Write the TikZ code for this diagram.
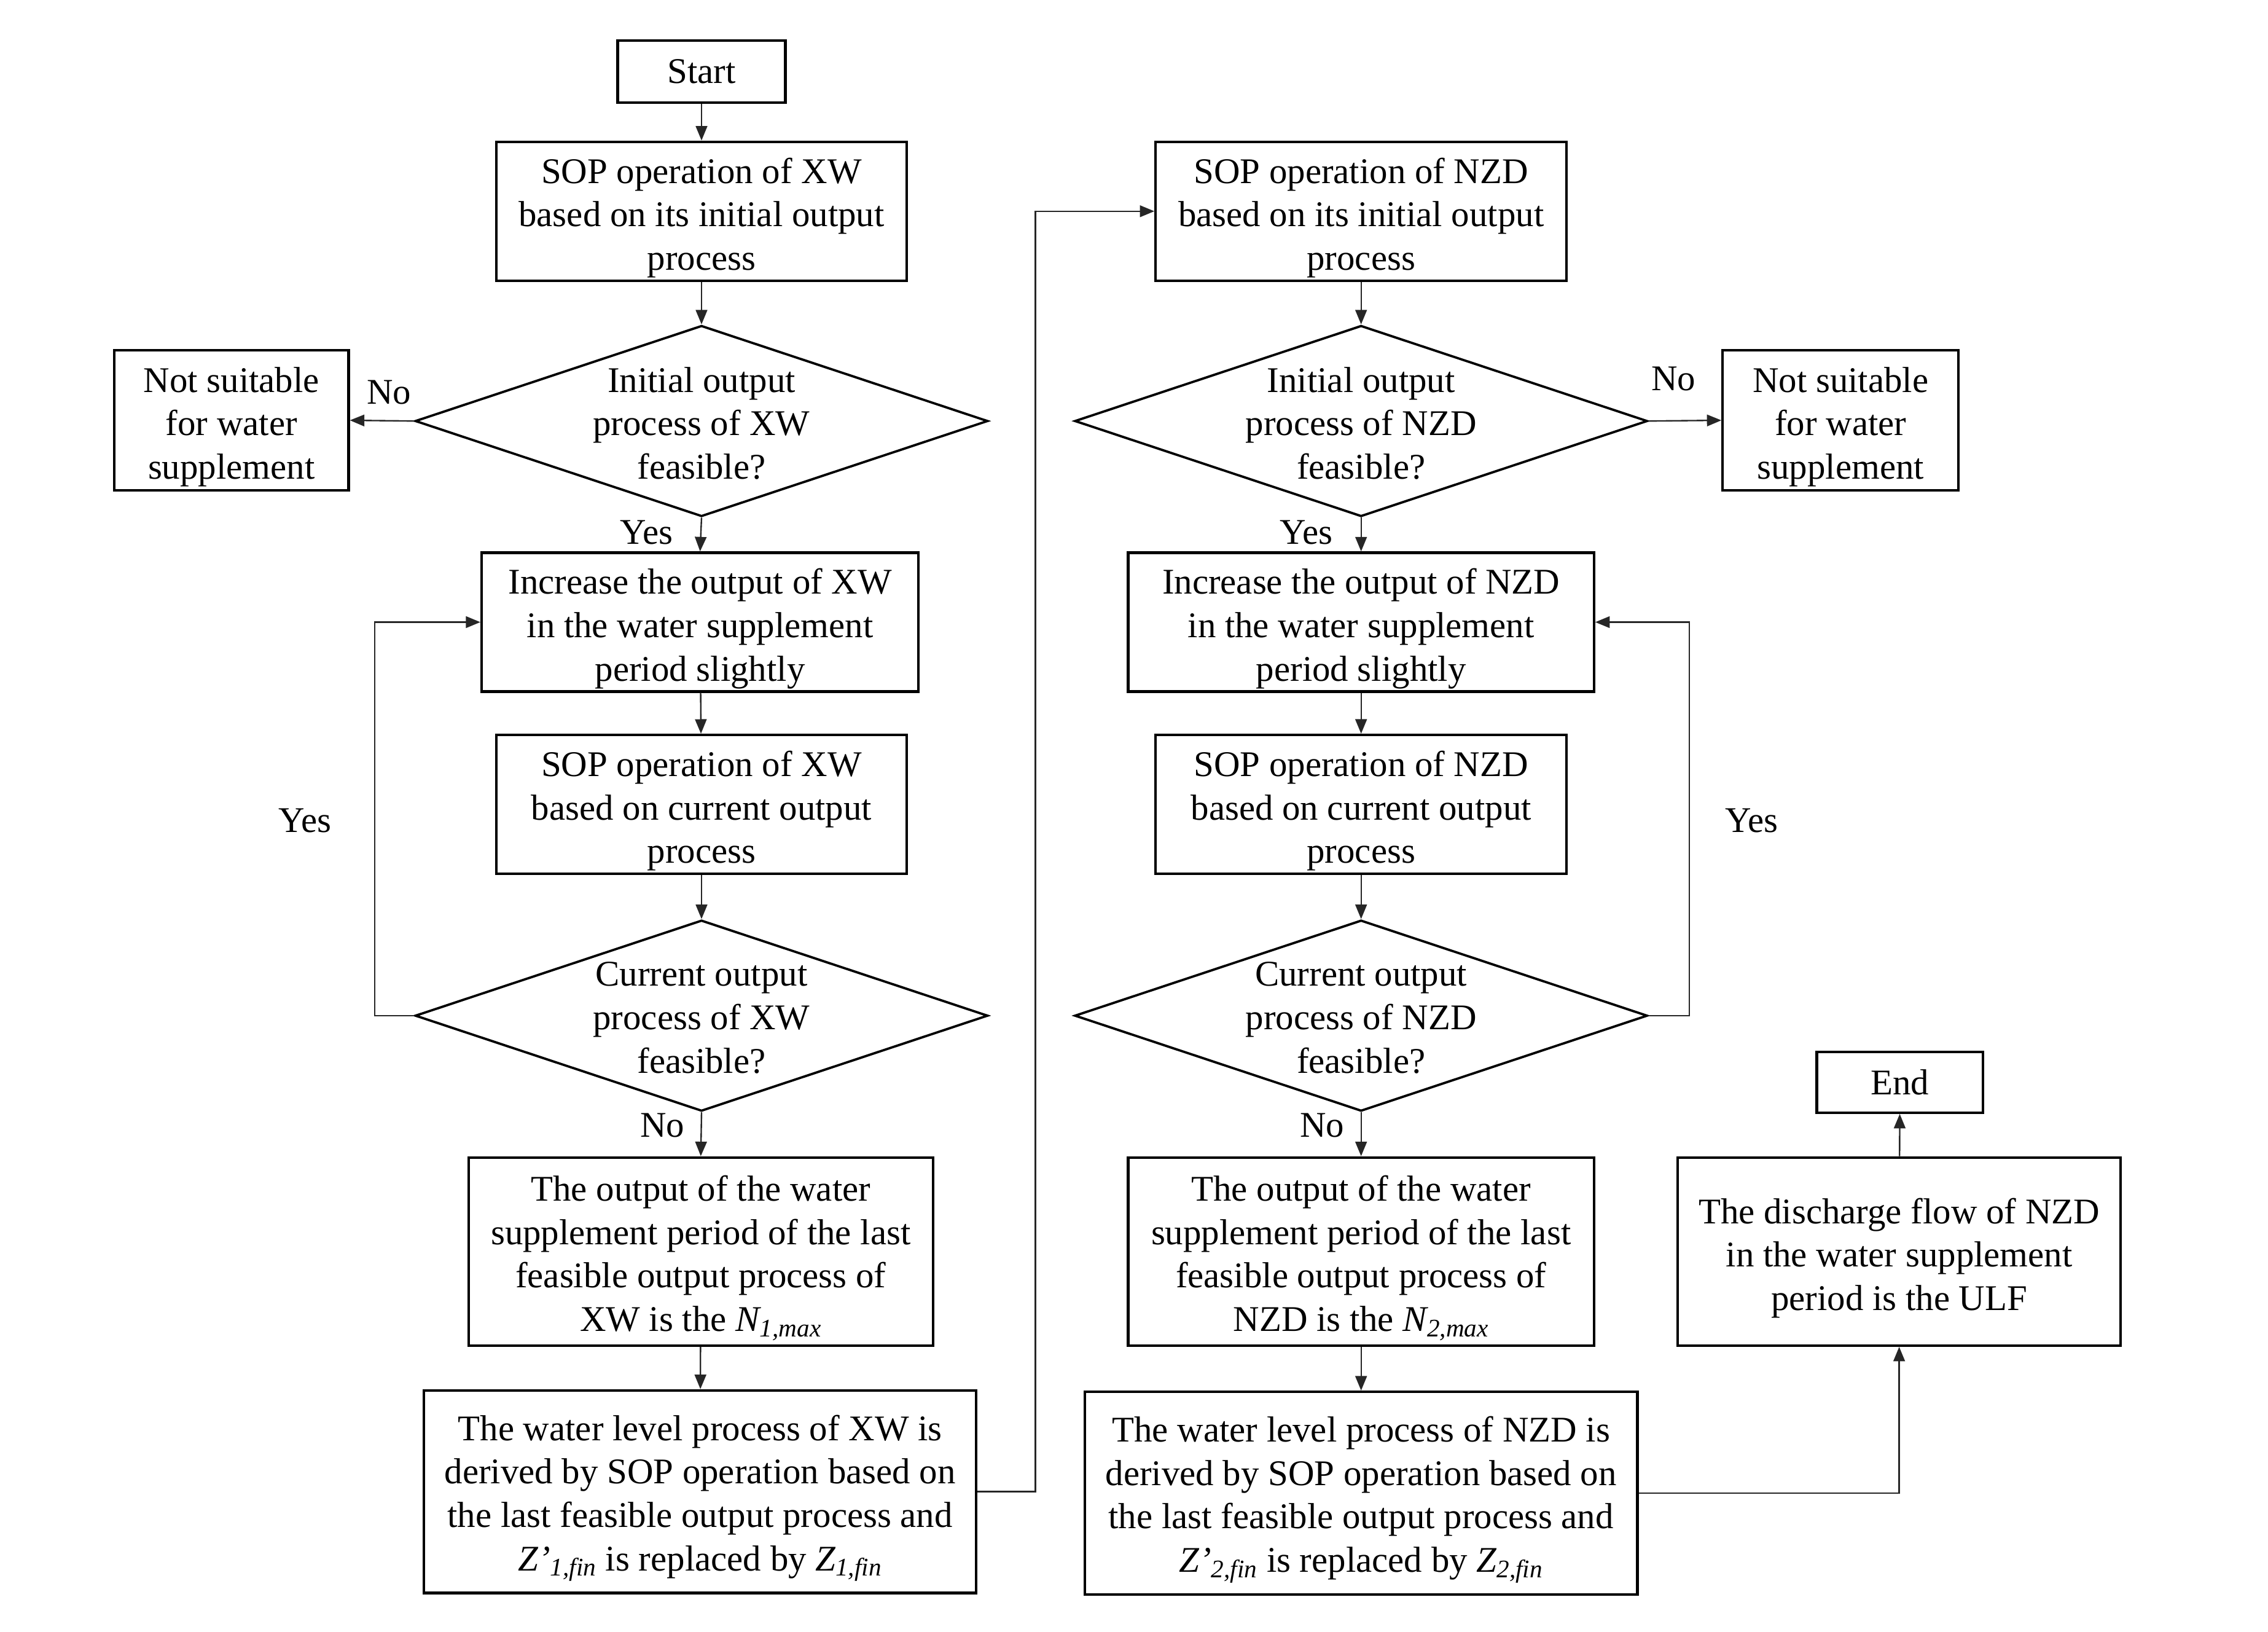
\documentclass[tikz,border=0pt]{standalone}
\usepackage{fontspec}
\setmainfont{Liberation Serif}
\usetikzlibrary{arrows.meta,shapes.geometric}
\begin{document}
\begin{tikzpicture}[x=1pt,y=-1pt, font=\fontsize{25}{30}\selectfont,
  box/.style={draw, line width=1.8pt, inner sep=0pt, align=center},
  txt/.style={align=center, inner sep=0pt, yshift=-4.5pt},
  dia/.style={draw, diamond, line width=1.6pt, inner sep=0pt, minimum width=396pt, minimum height=132pt},
  dtext/.style={align=center, inner sep=0pt, yshift=-1.5pt},
  arr/.style={line width=1pt, draw=black!85, -{Triangle[length=10pt,width=8pt]}},
  lbl/.style={inner sep=0pt}]
\useasboundingbox (0,0) rectangle (1568,1128);
\fill[white] (0,0) rectangle (1568,1128);

% left column
\node[box, minimum width=116pt, minimum height=43pt] (start) at (485,49.5) {Start};
\node[box, minimum width=284pt, minimum height=96pt] (sop1) at (485,146) {};
\node[txt] (sop1t) at (sop1) {SOP operation of XW\\based on its initial output\\process};
\node[dia] (d1) at (485,291) {};
\node[dtext] (d1t) at (d1) {Initial output\\process of XW\\feasible?};
\node[box, minimum width=162pt, minimum height=97pt] (ns1) at (160,290.5) {};
\node[txt] (ns1t) at (ns1) {Not suitable\\for water\\supplement};
\node[box, minimum width=302pt, minimum height=96pt] (inc1) at (484,430) {};
\node[txt] (inc1t) at (inc1) {Increase the output of XW\\in the water supplement\\period slightly};
\node[box, minimum width=284pt, minimum height=96pt] (sop1c) at (485,556) {};
\node[txt] (sop1ct) at (sop1c) {SOP operation of XW\\based on current output\\process};
\node[dia] (d2) at (485,702) {};
\node[dtext] (d2t) at (d2) {Current output\\process of XW\\feasible?};
\node[box, minimum width=321pt, minimum height=130pt] (out1) at (484.5,865) {};
\node[txt] (out1t) at (out1) {The output of the water\\supplement period of the last\\feasible output process of\\XW is the {\itshape N\textsubscript{1,max}}};
\node[box, minimum width=382pt, minimum height=140pt] (wl1) at (484,1031) {};
\node[txt] (wl1t) at (wl1) {The water level process of XW is\\derived by SOP operation based on\\the last feasible output process and\\{\itshape Z’\textsubscript{1,fin}} is replaced by {\itshape Z\textsubscript{1,fin}}};

% right column
\node[box, minimum width=284pt, minimum height=96pt] (sop2) at (941,146) {};
\node[txt] (sop2t) at (sop2) {SOP operation of NZD\\based on its initial output\\process};
\node[dia] (d3) at (941,291) {};
\node[dtext] (d3t) at (d3) {Initial output\\process of NZD\\feasible?};
\node[box, minimum width=163pt, minimum height=97pt] (ns2) at (1272.5,290.5) {};
\node[txt] (ns2t) at (ns2) {Not suitable\\for water\\supplement};
\node[box, minimum width=322pt, minimum height=96pt] (inc2) at (941,430) {};
\node[txt] (inc2t) at (inc2) {Increase the output of NZD\\in the water supplement\\period slightly};
\node[box, minimum width=284pt, minimum height=96pt] (sop2c) at (941,556) {};
\node[txt] (sop2ct) at (sop2c) {SOP operation of NZD\\based on current output\\process};
\node[dia] (d4) at (941,702) {};
\node[dtext] (d4t) at (d4) {Current output\\process of NZD\\feasible?};
\node[box, minimum width=322pt, minimum height=130pt] (out2) at (941,865) {};
\node[txt] (out2t) at (out2) {The output of the water\\supplement period of the last\\feasible output process of\\NZD is the {\itshape N\textsubscript{2,max}}};
\node[box, minimum width=382pt, minimum height=140pt] (wl2) at (941,1032) {};
\node[txt] (wl2t) at (wl2) {The water level process of NZD is\\derived by SOP operation based on\\the last feasible output process and\\{\itshape Z’\textsubscript{2,fin}} is replaced by {\itshape Z\textsubscript{2,fin}}};
\node[box, minimum width=306pt, minimum height=130pt] (ulf) at (1313,865) {};
\node[txt] (ulft) at (ulf) {The discharge flow of NZD\\in the water supplement\\period is the ULF};
\node[box, minimum width=115pt, minimum height=42pt] (end) at (1313.5,748) {End};

% labels
\node[lbl] (l1) at (269,271) {No};
\node[lbl] (l2) at (447,368) {Yes};
\node[lbl] (l3) at (211,567) {Yes};
\node[lbl] (l4) at (458,778) {No};
\node[lbl] (l5) at (1157,262) {No};
\node[lbl] (l6) at (903,368) {Yes};
\node[lbl] (l7) at (1211,567) {Yes};
\node[lbl] (l8) at (914,778) {No};

% connectors
\draw[arr] (start) -- (sop1);
\draw[arr] (sop1) -- (d1);
\draw[arr] (d1.west) -- (ns1.east);
\draw[arr] (d1.south) -- (inc1.north);
\draw[arr] (inc1) -- (sop1c);
\draw[arr] (sop1c) -- (d2.north);
\draw[arr] (d2.west) -- ++(-27,0) |- (inc1.west);
\draw[arr] (d2.south) -- (out1.north);
\draw[arr] (out1) -- (wl1);
\draw[arr] (wl1.east) -- ++(40,0) |- (sop2.west);

\draw[arr] (sop2) -- (d3.north);
\draw[arr] (d3.east) -- (ns2.west);
\draw[arr] (d3.south) -- (inc2.north);
\draw[arr] (inc2) -- (sop2c);
\draw[arr] (sop2c) -- (d4.north);
\draw[arr] (d4.east) -- ++(28,0) |- (inc2.east);
\draw[arr] (d4.south) -- (out2.north);
\draw[arr] (out2) -- (wl2);
\draw[arr] (wl2.east) -| (ulf.south);
\draw[arr] (ulf) -- (end);
\end{tikzpicture}
\end{document}
